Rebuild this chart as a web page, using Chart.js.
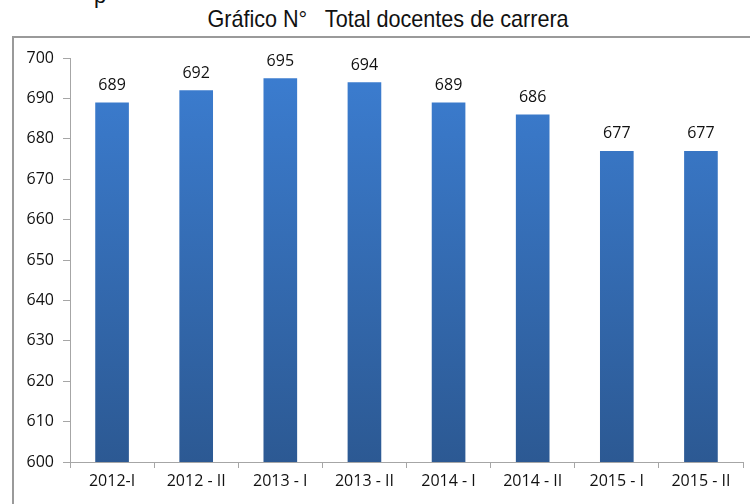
<!DOCTYPE html>
<html>
<head>
<meta charset="utf-8">
<script src="https://cdn.jsdelivr.net/npm/chart.js@4.4.0/dist/chart.umd.min.js"></script>
<style>
  html, body { margin: 0; padding: 0; background: #fff; }
  body { width: 750px; height: 504px; position: relative; overflow: hidden; }
  #frame { position: absolute; left: 12px; top: 36px; width: 760px; height: 500px;
           border-left: 2px solid #9a9a9a; border-top: 2px solid #9a9a9a; box-sizing: border-box; }
  #title { position: absolute; left: 388px; top: 5px; transform: translateX(-50%) scaleX(0.9);
           font-family: "Liberation Sans Narrow", "Arial Narrow", "Liberation Sans", sans-serif;
           font-size: 24px; color: #111; white-space: pre; }
  #frag { position: absolute; left: 94px; top: -17px; font-family: "Liberation Sans", sans-serif;
          font-size: 22px; color: #111; }
  #wrap { position: absolute; left: 0; top: 0; width: 750px; height: 504px; }
</style>
</head>
<body>
<div id="frag">p</div>
<div id="title">Gráfico N°   Total docentes de carrera</div>
<div id="frame"></div>
<div id="wrap"><canvas id="c" width="750" height="504"></canvas></div>
<script>
const categories = ["2012-I", "2012 - II", "2013 - I", "2013 - II", "2014 - I", "2014 - II", "2015 - I", "2015 - II"];
const docentes = [689, 692, 695, 694, 689, 686, 677, 677];
const yMin = 600, yMax = 700, yStep = 10;

const labelPlugin = {
  id: 'valueLabels',
  afterDatasetsDraw(chart) {
    const ctx = chart.ctx;
    const meta = chart.getDatasetMeta(0);
    ctx.save();
    ctx.font = '16px "Open Sans", sans-serif';
    ctx.fillStyle = '#111';
    ctx.textAlign = 'center';
    ctx.textBaseline = 'bottom';
    meta.data.forEach((bar, i) => {
      ctx.fillText(String(chart.data.datasets[0].data[i]), bar.x, bar.y - 9);
    });
    ctx.restore();
  }
};

new Chart(document.getElementById('c'), {
  type: 'bar',
  data: {
    labels: categories,
    datasets: [{
      data: docentes,
      backgroundColor(context) {
        const ca = context.chart.chartArea;
        if (!ca) return '#3a7acc';
        const g = context.chart.ctx.createLinearGradient(0, ca.top, 0, ca.bottom);
        g.addColorStop(0, '#3c7ed2');
        g.addColorStop(1, '#2c5993');
        return g;
      },
      borderWidth: 0,
      barPercentage: 0.8,
      categoryPercentage: 0.5
    }]
  },
  options: {
    responsive: false,
    animation: false,
    layout: { padding: { top: 58, right: 7, left: 0, bottom: 0 } },
    plugins: { legend: { display: false }, tooltip: { enabled: false }, title: { display: false } },
    scales: {
      x: {
        offset: true,
        grid: { display: true, drawOnChartArea: false, drawTicks: true, tickLength: 6, color: '#a6a6a6', offset: true },
        border: { display: true, color: '#a6a6a6', width: 1 },
        ticks: { color: '#111', font: { family: '"Open Sans", sans-serif', size: 16 }, padding: 4, maxRotation: 0, autoSkip: false },
        afterFit(scale) { scale.height = 42; }
      },
      y: {
        min: yMin, max: yMax,
        grid: { display: true, drawOnChartArea: false, drawTicks: true, tickLength: 7, color: '#a6a6a6' },
        border: { display: true, color: '#a6a6a6', width: 1 },
        ticks: { stepSize: yStep, color: '#111', font: { family: '"Open Sans", sans-serif', size: 16 }, padding: 9 },
        afterFit(scale) { scale.width = 70; }
      }
    }
  },
  plugins: [labelPlugin]
});
</script>
</body>
</html>
